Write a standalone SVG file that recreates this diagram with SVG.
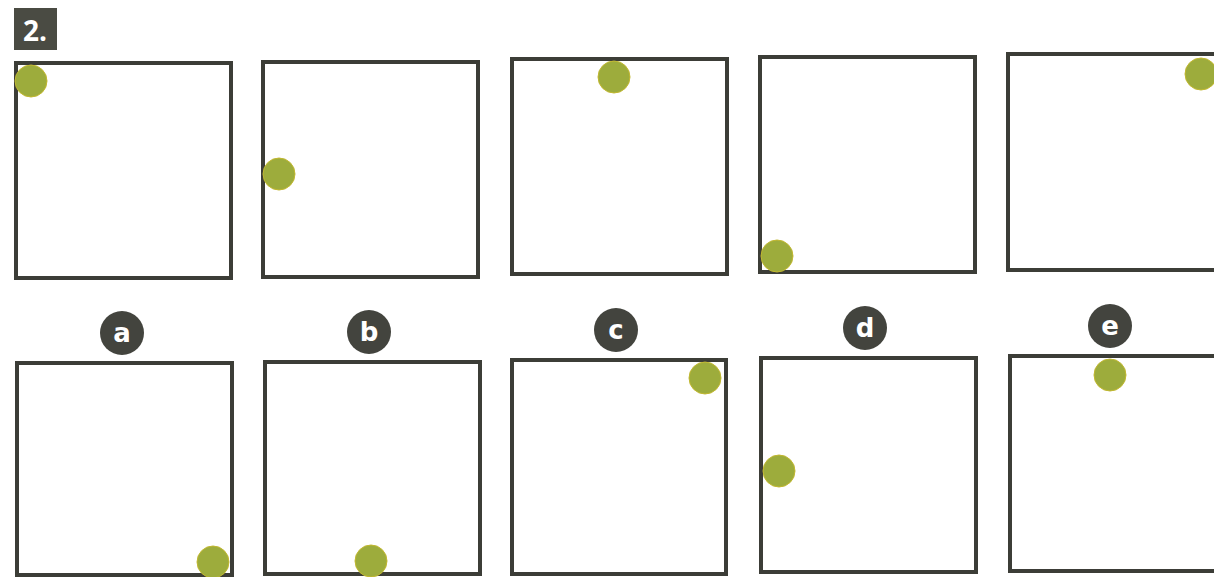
<svg xmlns="http://www.w3.org/2000/svg" width="1214" height="577" viewBox="0 0 1214 577">
<style>
.box{fill:none;stroke:#3c3d37;stroke-width:4}
.dot{fill:#9dac3c;stroke:#c2b830;stroke-width:1}
.lab circle{fill:#43443e}
.lab text{fill:#ffffff;font-family:"DejaVu Sans",sans-serif;font-weight:bold;font-size:26px;text-anchor:middle}
</style>
<rect width="1214" height="577" fill="#ffffff"/>
<g id="title">
<rect x="14" y="8" width="43" height="42" fill="#4a4b43"/>
<text x="35" y="41" fill="#ffffff" font-family="'Open Sans',sans-serif" font-weight="bold" font-size="28" text-anchor="middle">2.</text>
</g>
<g id="top-row">
<g id="top-a"><rect class="box" x="16" y="63" width="215" height="215"/><circle class="dot" cx="31" cy="81" r="16"/></g>
<g id="top-b"><rect class="box" x="263" y="62" width="215" height="215"/><circle class="dot" cx="279" cy="174" r="16"/></g>
<g id="top-c"><rect class="box" x="512" y="59" width="215" height="215"/><circle class="dot" cx="614" cy="77" r="16"/></g>
<g id="top-d"><rect class="box" x="760" y="57" width="215" height="215"/><circle class="dot" cx="777" cy="256" r="16"/></g>
<g id="top-e"><rect class="box" x="1008" y="54" width="215" height="216"/><circle class="dot" cx="1201" cy="74" r="16"/></g>
</g>
<g id="labels">
<g id="label-a" class="lab"><circle cx="122" cy="333" r="22"/><text x="122" y="342">a</text></g>
<g id="label-b" class="lab"><circle cx="369" cy="332" r="22"/><text x="369" y="341">b</text></g>
<g id="label-c" class="lab"><circle cx="616" cy="330" r="22"/><text x="616" y="339">c</text></g>
<g id="label-d" class="lab"><circle cx="865" cy="328" r="22"/><text x="865" y="337">d</text></g>
<g id="label-e" class="lab"><circle cx="1110" cy="326" r="22"/><text x="1110" y="335">e</text></g>
</g>
<g id="bottom-row">
<g id="bottom-a"><rect class="box" x="17" y="363" width="215" height="212"/><circle class="dot" cx="213" cy="562" r="16"/></g>
<g id="bottom-b"><rect class="box" x="265" y="362" width="215" height="212"/><circle class="dot" cx="371" cy="561" r="16"/></g>
<g id="bottom-c"><rect class="box" x="512" y="360" width="214" height="214"/><circle class="dot" cx="705" cy="378" r="16"/></g>
<g id="bottom-d"><rect class="box" x="761" y="358" width="215" height="214"/><circle class="dot" cx="779" cy="471" r="16"/></g>
<g id="bottom-e"><rect class="box" x="1010" y="356" width="215" height="215"/><circle class="dot" cx="1110" cy="375" r="16"/></g>
</g>
<g id="connectors"/>
</svg>
